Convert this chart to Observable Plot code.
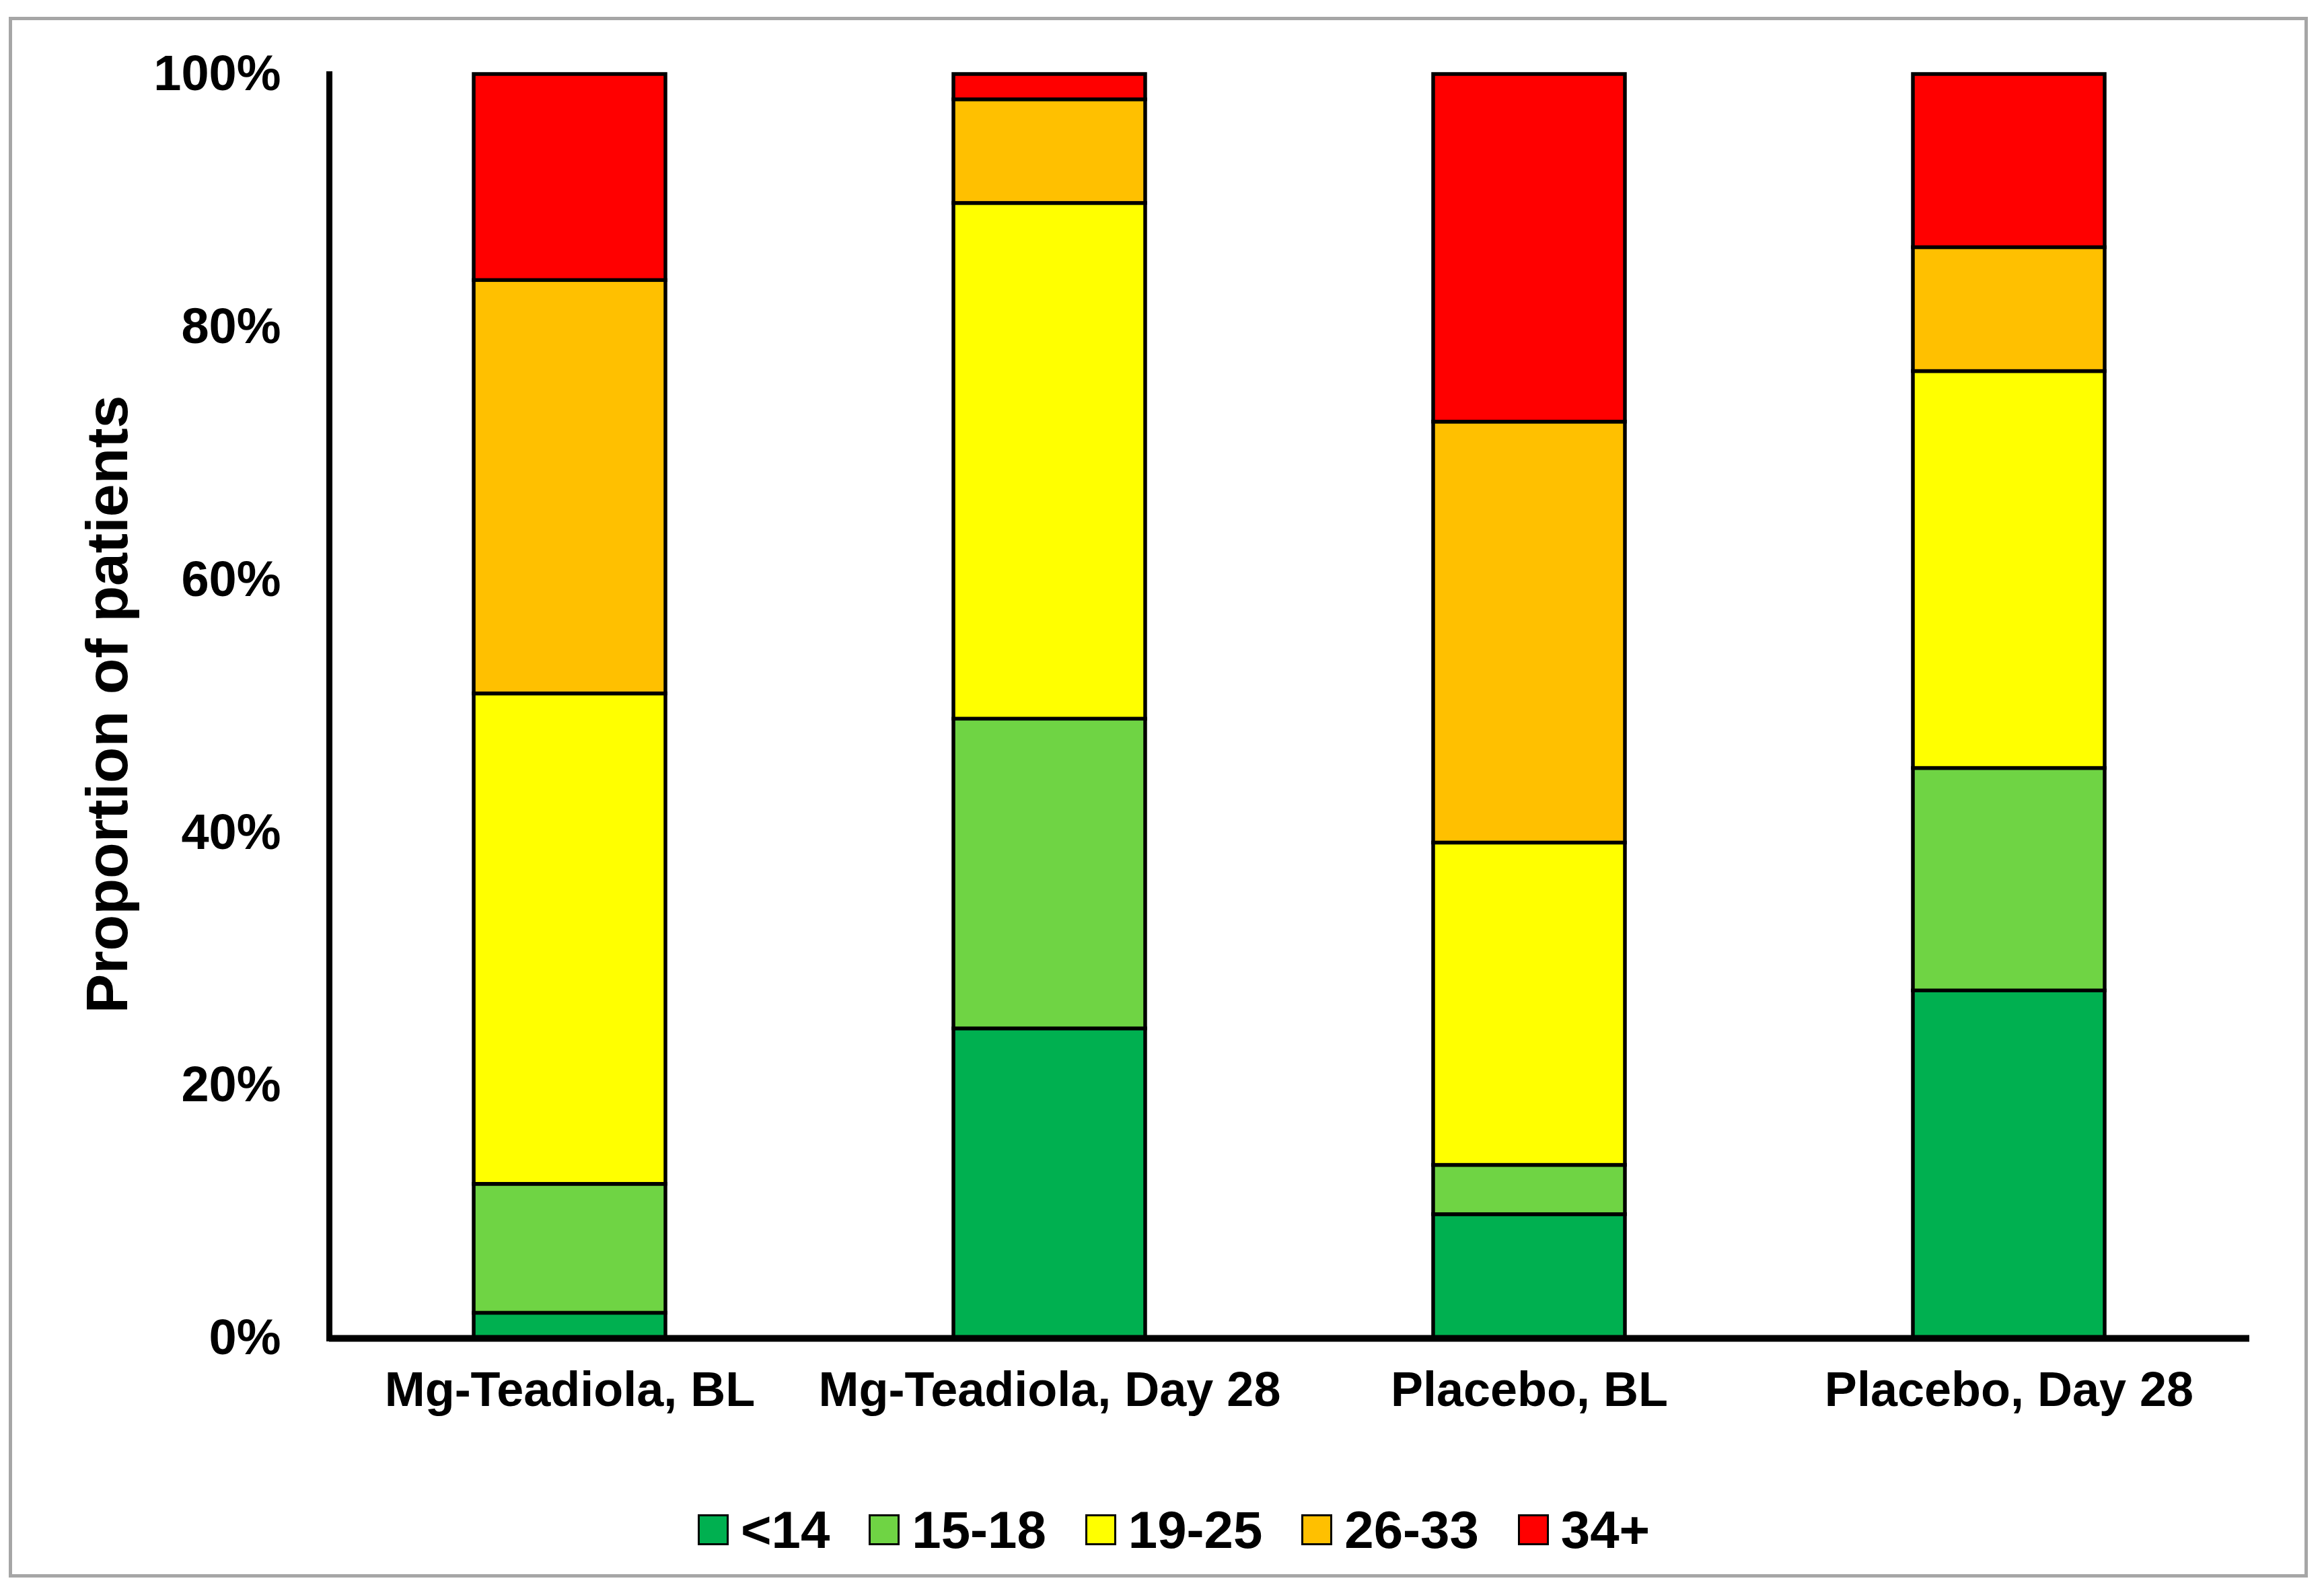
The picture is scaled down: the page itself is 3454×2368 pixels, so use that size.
<!DOCTYPE html>
<html>
<head>
<meta charset="utf-8">
<script src="https://cdn.jsdelivr.net/npm/d3@7"></script>
<script src="https://cdn.jsdelivr.net/npm/@observablehq/plot@0.6"></script>
<style>
  html, body { margin: 0; padding: 0; background: #fff; }
  #wrap { position: relative; width: 3454px; height: 2368px; overflow: hidden; font-family: "Liberation Sans", Arial, sans-serif; }
  #frame { position: absolute; left: 13px; top: 25px; width: 3417px; height: 2320px; box-sizing: border-box; border: 5px solid #a6a6a6; }
  #chart { position: absolute; left: 0; top: 0; }
  #legend { position: absolute; left: 1037px; top: 2235px; display: flex; align-items: center; height: 78px; }
  .item { display: flex; align-items: center; margin-right: 58px; }
  .sw { width: 46px; height: 46px; box-sizing: border-box; border: 3px solid #000; margin-right: 18px; }
  .lab { font-size: 78px; font-weight: bold; line-height: 78px; color: #000; }
</style>
</head>
<body>
<div id="wrap">
  <div id="frame"></div>
  <div id="chart"></div>
  <div id="legend"></div>
</div>
<script>
// Categories (x axis)
const groups = ["Mg-Teadiola, BL", "Mg-Teadiola, Day 28", "Placebo, BL", "Placebo, Day 28"];
// Score bands (series)
const bands = ["<14", "15-18", "19-25", "26-33", "34+"];
const bandColors = ["#00b050", "#6fd444", "#ffff00", "#ffc000", "#ff0000"];
// Percent of patients per band, one value per group
const lt14  = [2.0, 24.5, 9.8, 27.5];
const s15_18 = [10.2, 24.5, 3.9, 17.6];
const s19_25 = [38.8, 40.8, 25.5, 31.4];
const s26_33 = [32.7, 8.2, 33.3, 9.8];
const s34p  = [16.3, 2.0, 27.5, 13.7];
// Y tick values
const yTicks = [0, 20, 40, 60, 80, 100];
const yTitle = "Proportion of patients";

const series = [lt14, s15_18, s19_25, s26_33, s34p];
const data = [];
bands.forEach((b, i) => groups.forEach((g, j) => data.push({group: g, band: b, value: series[i][j]})));

const W = 3454, H = 2160;
const chart = Plot.plot({
  width: W,
  height: H,
  marginLeft: 489,
  marginRight: W - 3343,
  marginTop: 110,
  marginBottom: H - 1989,
  style: {fontFamily: "'Liberation Sans', Arial, sans-serif", fontWeight: "bold", color: "#000", background: "transparent", overflow: "visible"},
  x: {domain: groups, paddingInner: 0.6, paddingOuter: 0.3},
  y: {domain: [0, 100]},
  color: {domain: bands, range: bandColors},
  marks: [
    Plot.barY(data, {x: "group", y: "value", fill: "band", stroke: "#000", strokeWidth: 5.5}),
    Plot.frame({anchor: "left", stroke: "#000", strokeWidth: 9}),
    Plot.ruleY([0], {stroke: "#000", strokeWidth: 10}),
    Plot.axisY({ticks: yTicks, tickSize: 0, tickPadding: 72, tickFormat: d => d + "%", fontSize: 74, label: null}),
    Plot.axisX({tickSize: 0, tickPadding: 49, fontSize: 72, label: null}),
    Plot.text([yTitle], {text: d => d, frameAnchor: "left", textAnchor: "middle", dx: -329, dy: -3, rotate: -90, fontSize: 88, fontWeight: "bold"})
  ]
});
document.getElementById("chart").appendChild(chart);

const legend = document.getElementById("legend");
bands.forEach((b, i) => {
  const item = document.createElement("div");
  item.className = "item";
  const sw = document.createElement("div");
  sw.className = "sw";
  sw.style.background = bandColors[i];
  const lab = document.createElement("span");
  lab.className = "lab";
  lab.textContent = b;
  item.appendChild(sw);
  item.appendChild(lab);
  legend.appendChild(item);
});
</script>
</body>
</html>
